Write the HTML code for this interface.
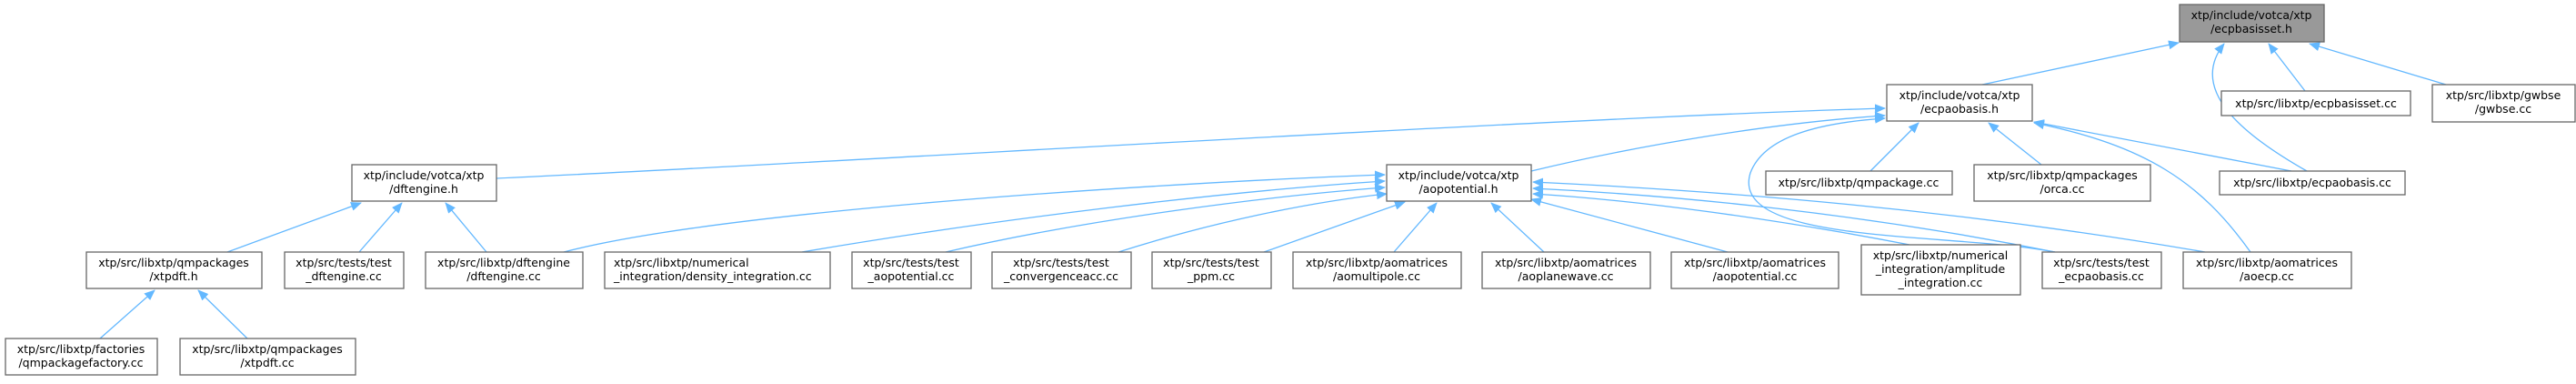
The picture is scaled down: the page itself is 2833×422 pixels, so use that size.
<!DOCTYPE html>
<html><head><meta charset="utf-8"><style>
html,body{margin:0;padding:0;background:#fff;}
svg text{font-family:"DejaVu Sans","Liberation Sans",sans-serif;font-size:12.5px;fill:#000;}
</style></head><body>
<svg width="2833" height="417" viewBox="0 0 2833 417" xmlns="http://www.w3.org/2000/svg">
<defs>
<marker id="a" markerWidth="12" markerHeight="10" refX="11" refY="5" orient="auto" markerUnits="userSpaceOnUse">
<polygon points="0,0 12,5 0,10" fill="#63b8ff"/>
</marker>
</defs>
<g fill="none" stroke="#63b8ff" stroke-width="1.3" marker-end="url(#a)">
<path d="M2180,93 L2396,47"/>
<path d="M2537,188 C2470,150 2405,100 2446,48"/>
<path d="M2535,100 L2495,48"/>
<path d="M2690,93 L2540,48"/>
<path d="M546,196 C900,180 1700,130 2073,119"/>
<path d="M1684,188 C1800,160 1950,135 2073,127"/>
<path d="M2057,188 L2110,135"/>
<path d="M2245,181 L2187,135"/>
<path d="M2520,188 L2237,134"/>
<path d="M2260,277 C2150,255 1900,270 1925,190 C1940,150 2000,135 2073,130"/>
<path d="M2475,277 C2420,200 2360,160 2237,135"/>
<path d="M250,277 L397,223"/>
<path d="M395,277 L442,223"/>
<path d="M535,277 L490,223"/>
<path d="M110,372 L170,319"/>
<path d="M272,372 L218,319"/>
<path d="M620,277 C800,230 1300,200 1523,192"/>
<path d="M882,277 C1100,240 1350,210 1523,199"/>
<path d="M1040,277 C1200,240 1400,215 1523,206"/>
<path d="M1230,277 C1330,245 1440,222 1525,213"/>
<path d="M1390,277 L1545,222"/>
<path d="M1533,277 L1580,223"/>
<path d="M1698,277 L1640,223"/>
<path d="M1900,277 L1684,219"/>
<path d="M2100,269 C1950,240 1800,220 1686,213"/>
<path d="M2260,277 C2050,235 1850,215 1686,207"/>
<path d="M2425,277 C2150,230 1900,210 1686,200"/>
</g>
<g stroke="#666" stroke-width="1.3" fill="#fff">
<rect x="2397" y="5" width="159" height="41" fill="#999"/>
<rect x="2075" y="93" width="160" height="40"/>
<rect x="2443" y="100" width="208" height="27"/>
<rect x="2675" y="93" width="157" height="41"/>
<rect x="1942" y="188" width="205" height="26"/>
<rect x="2171" y="181" width="194" height="40"/>
<rect x="2441" y="188" width="204" height="26"/>
<rect x="387" y="181" width="159" height="40"/>
<rect x="1525" y="181" width="159" height="40"/>
<rect x="95" y="277" width="193" height="40"/>
<rect x="313" y="277" width="131" height="40"/>
<rect x="468" y="277" width="173" height="40"/>
<rect x="665" y="277" width="248" height="40"/>
<rect x="937" y="277" width="131" height="40"/>
<rect x="1091" y="277" width="153" height="40"/>
<rect x="1267" y="277" width="131" height="40"/>
<rect x="1422" y="277" width="185" height="40"/>
<rect x="1630" y="277" width="185" height="40"/>
<rect x="1838" y="277" width="184" height="40"/>
<rect x="2047" y="269" width="175" height="55"/>
<rect x="2246" y="277" width="131" height="40"/>
<rect x="2401" y="277" width="185" height="40"/>
<rect x="6" y="372" width="167" height="40"/>
<rect x="198" y="372" width="193" height="40"/>
</g>
<g text-anchor="middle">
<text x="2476" y="21">xtp/include/votca/xtp</text><text x="2476" y="36">/ecpbasisset.h</text>
<text x="2155" y="109">xtp/include/votca/xtp</text><text x="2155" y="124">/ecpaobasis.h</text>
<text x="2547" y="118">xtp/src/libxtp/ecpbasisset.cc</text>
<text x="2753" y="109">xtp/src/libxtp/gwbse</text><text x="2753" y="124">/gwbse.cc</text>
<text x="2044" y="205">xtp/src/libxtp/qmpackage.cc</text>
<text x="2268" y="197">xtp/src/libxtp/qmpackages</text><text x="2268" y="212">/orca.cc</text>
<text x="2543" y="205">xtp/src/libxtp/ecpaobasis.cc</text>
<text x="466" y="197">xtp/include/votca/xtp</text><text x="466" y="212">/dftengine.h</text>
<text x="1604" y="197">xtp/include/votca/xtp</text><text x="1604" y="212">/aopotential.h</text>
<text x="191" y="293">xtp/src/libxtp/qmpackages</text><text x="191" y="308">/xtpdft.h</text>
<text x="378" y="293">xtp/src/tests/test</text><text x="378" y="308">_dftengine.cc</text>
<text x="554" y="293">xtp/src/libxtp/dftengine</text><text x="554" y="308">/dftengine.cc</text>
<text x="1002" y="293">xtp/src/tests/test</text><text x="1002" y="308">_aopotential.cc</text>
<text x="1167" y="293">xtp/src/tests/test</text><text x="1167" y="308">_convergenceacc.cc</text>
<text x="1332" y="293">xtp/src/tests/test</text><text x="1332" y="308">_ppm.cc</text>
<text x="1514" y="293">xtp/src/libxtp/aomatrices</text><text x="1514" y="308">/aomultipole.cc</text>
<text x="1722" y="293">xtp/src/libxtp/aomatrices</text><text x="1722" y="308">/aoplanewave.cc</text>
<text x="1930" y="293">xtp/src/libxtp/aomatrices</text><text x="1930" y="308">/aopotential.cc</text>
<text x="2134" y="285">xtp/src/libxtp/numerical</text><text x="2134" y="300">_integration/amplitude</text><text x="2134" y="315">_integration.cc</text>
<text x="2311" y="293">xtp/src/tests/test</text><text x="2311" y="308">_ecpaobasis.cc</text>
<text x="2493" y="293">xtp/src/libxtp/aomatrices</text><text x="2493" y="308">/aoecp.cc</text>
<text x="89" y="388">xtp/src/libxtp/factories</text><text x="89" y="403">/qmpackagefactory.cc</text>
<text x="294" y="388">xtp/src/libxtp/qmpackages</text><text x="294" y="403">/xtpdft.cc</text>
</g>
<g text-anchor="start">
<text x="675" y="293">xtp/src/libxtp/numerical</text><text x="675" y="308">_integration/density_integration.cc</text>
</g>
</svg>
</body></html>
